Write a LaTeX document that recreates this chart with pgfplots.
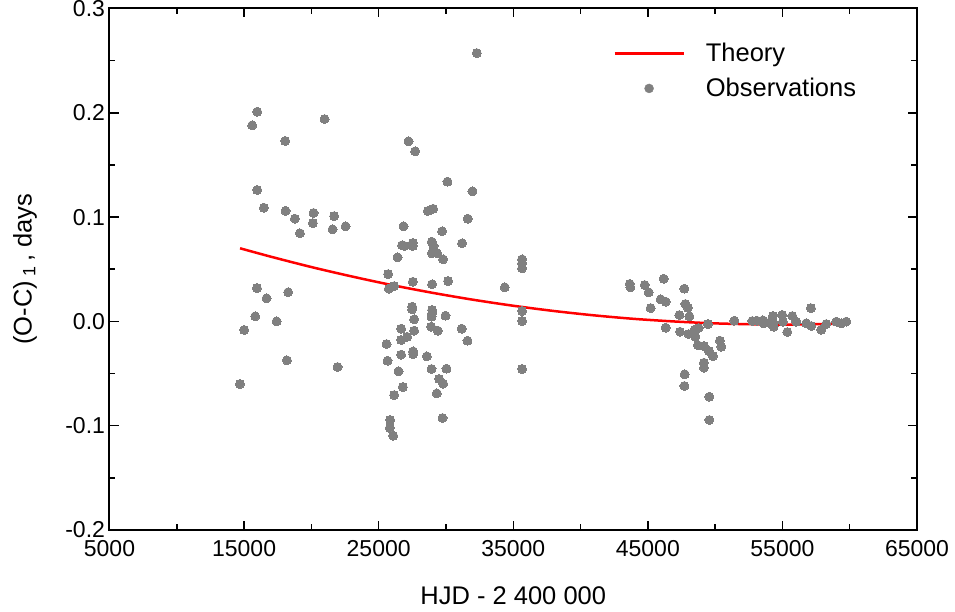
\documentclass[border=0pt]{standalone}
\usepackage{fontspec}
\setmainfont{Liberation Sans}
\usepackage{pgfplots}
\pgfplotsset{compat=1.18}
\definecolor{obsgray}{RGB}{128,128,128}
\begin{document}
\begin{tikzpicture}
\begin{axis}[
  at={(0pt,0pt)}, anchor=south west,
  scale only axis, width=807.5pt, height=521.5pt,
  xmin=5000, xmax=65000, ymin=-0.2, ymax=0.3,
  scaled x ticks=false, scaled y ticks=false,
  xtick={5000,15000,25000,35000,45000,55000,65000},
  xticklabels={5000,15000,25000,35000,45000,55000,65000},
  ytick={-0.2,-0.1,0,0.1,0.2,0.3},
  yticklabels={-0.2,-0.1,0.0,0.1,0.2,0.3},
  minor x tick num=1, minor y tick num=1,
  tick align=inside, major tick length=9pt, minor tick length=6pt,
  every tick/.style={line width=1.5pt, black},
  axis line style={line width=2pt},
  ticklabel style={font=\fontsize{23}{27}\selectfont},
  xticklabel style={yshift=-7pt},
  yticklabel style={xshift=-1pt},
  xlabel={HJD - 2 400 000},
  ylabel={(O-C)\,\textsubscript{1}\,, days},
  label style={font=\fontsize{25.5}{30}\selectfont},
  xlabel style={at={(axis description cs:0.5,-0.1256)}, anchor=center},
  ylabel style={at={(axis description cs:-0.1046,0.5)}, anchor=center},
  legend style={draw=none, fill=none, at={(axis description cs:0.62,0.941)}, anchor=north west,
    font=\fontsize{25.5}{30}\selectfont, row sep=11pt, column sep=19pt, legend cell align=left},
  clip=false,
]
\addplot[red, line width=2.5pt, smooth,
  legend image code/.code={\draw[red, line width=2.5pt] (0pt,0pt) -- (69pt,0pt);}]
  coordinates {
  (14700,0.0701) (17000,0.0620) (20000,0.0521) (23000,0.0431) (26000,0.0348)
  (29000,0.0274) (32000,0.0208) (35000,0.0150) (38000,0.0100) (41000,0.0058)
  (44000,0.0024) (47000,-0.0001) (50000,-0.0019) (53000,-0.0028) (56000,-0.0030)
  (59700,-0.0020)
  };
\addlegendentry{Theory}
\addplot[only marks, color=obsgray, mark=*, mark size=4.5pt, mark options={draw=obsgray, fill=obsgray, line width=0pt},
  legend image code/.code={\fill[obsgray] (34.5pt,0pt) circle (4.5pt);}]
  table {
  x y
  15975 0.201
  15604 0.188
  20981 0.194
  18055 0.173
  15975 0.126
  16473 0.109
  18084 0.106
  18775 0.0985
  20163 0.104
  20111 0.0943
  19146 0.0845
  21694 0.101
  21575 0.0883
  22540 0.0912
  15953 0.032
  16673 0.0222
  18278 0.028
  15827 0.0049
  17416 0.000
  15010 -0.0082
  18181 -0.0373
  21946 -0.0437
  14691 -0.060
  32291 0.2573
  27218 0.1727
  27710 0.1631
  30114 0.134
  31970 0.1247
  28651 0.1059
  29046 0.108
  31622 0.0985
  26847 0.0912
  29714 0.0864
  26744 0.073
  26920 0.0723
  27538 0.0752
  27538 0.0723
  28949 0.0764
  29075 0.0723
  28949 0.0653
  29343 0.0653
  29789 0.0595
  31199 0.0749
  26401 0.0614
  25704 0.0454
  25755 0.0314
  26150 0.0339
  27538 0.038
  28972 0.0356
  30160 0.0387
  34370 0.0327
  35656 0.0595
  35656 0.0557
  35656 0.0509
  35656 0.0100
  35656 0.0004
  35656 -0.0456
  27487 0.0141
  27487 0.0116
  28972 0.0109
  28972 0.0078
  28926 0.0045
  29966 0.0055
  27635 0.0020
  26669 -0.0070
  27635 -0.0089
  28898 -0.0051
  29394 -0.0089
  31176 -0.0070
  27115 -0.0147
  26669 -0.0178
  25585 -0.0217
  31600 -0.0185
  25659 -0.0377
  26669 -0.0319
  27560 -0.0287
  27560 -0.0313
  28578 -0.0335
  26476 -0.0478
  28926 -0.0456
  30040 -0.0453
  29493 -0.0552
  29789 -0.0597
  26795 -0.0629
  26150 -0.0706
  29320 -0.0690
  29744 -0.0926
  25853 -0.0945
  25829 -0.1022
  26076 -0.1096
  43653 0.0359
  43703 0.0327
  46177 0.0409
  44766 0.0349
  45063 0.0279
  47713 0.0314
  45955 0.0212
  46326 0.0189
  45212 0.0128
  47787 0.0167
  47981 0.0131
  47342 0.0061
  48085 0.0049
  49467 -0.0025
  46326 -0.0060
  47388 -0.0099
  48034 -0.0121
  48480 -0.0080
  48777 -0.0063
  48724 -0.0229
  49170 -0.0236
  49541 -0.0284
  50358 -0.0185
  50462 -0.0243
  48531 -0.0147
  49839 -0.0332
  49170 -0.0396
  49170 -0.0444
  47736 -0.0507
  47713 -0.0619
  49570 -0.0722
  49570 -0.0945
  51427 0.0007
  52763 0.0004
  53106 0.0007
  53551 0.0010
  53604 -0.0018
  53996 -0.0013
  54293 0.0052
  54343 -0.0018
  54343 -0.0051
  54990 0.0062
  55037 -0.0003
  55363 -0.0102
  55734 0.0052
  56031 -0.0003
  56774 -0.0018
  57145 -0.0044
  57116 0.0128
  57888 -0.0080
  58259 -0.0025
  59005 -0.0002
  59376 -0.0018
  59747 -0.0002
  };
\addlegendentry{Observations}
\end{axis}
\pgfresetboundingbox
\path[use as bounding box] (-109.5pt,-82pt) rectangle (845.5pt,530pt);
\end{tikzpicture}
\end{document}
